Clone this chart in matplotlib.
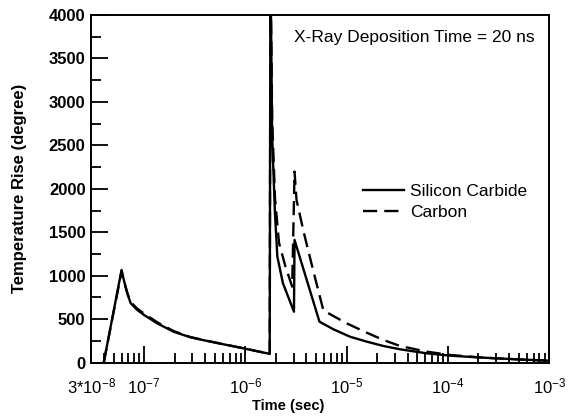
import numpy as np
import matplotlib
matplotlib.use("Agg")
import matplotlib.pyplot as plt
from matplotlib.ticker import FixedLocator, LogLocator, NullFormatter, MultipleLocator

plt.rcParams['font.family'] = ['Liberation Sans', 'DejaVu Sans']
plt.rcParams['mathtext.fontset'] = 'custom'
plt.rcParams['mathtext.rm'] = 'Liberation Sans'
plt.rcParams['mathtext.it'] = 'Liberation Sans'

# Silicon Carbide (solid)
sic_t = [4.0e-8, 6.0e-8, 6.32e-8, 6.84e-8, 7.36e-8, 8.5e-8, 1.0e-7, 1.35e-7,
         1.95e-7, 2.87e-7, 4.2e-7, 6.07e-7, 8.9e-7, 1.64e-6, 1.74e-6, 1.77e-6,
         1.84e-6, 1.96e-6, 2.07e-6, 2.35e-6, 3.02e-6, 3.06e-6, 5.39e-6, 7.41e-6,
         1.08e-5, 1.58e-5, 2.31e-5, 3.37e-5, 6.17e-5, 1.05e-4, 2.21e-4, 4.75e-4,
         9.9e-4]
sic_T = [0, 1067, 951, 798, 687, 610, 549, 453,
         357, 292, 250, 212, 173, 108, 100, 4600,
         2600, 1719, 1220, 914, 587, 1412, 472, 384,
         299, 242, 192, 154, 108, 81, 58, 39,
         23]

# Carbon (dashed)
c_t = [4.0e-8, 6.0e-8, 6.32e-8, 6.84e-8, 7.36e-8, 8.5e-8, 1.0e-7, 1.35e-7,
       1.95e-7, 2.87e-7, 4.2e-7, 6.07e-7, 8.9e-7, 1.64e-6, 1.74e-6, 1.77e-6,
       1.84e-6, 1.96e-6, 2.15e-6, 2.49e-6, 2.90e-6, 3.06e-6, 3.2e-6, 3.79e-6,
       4.75e-6, 5.9e-6, 1.0e-5, 1.58e-5, 2.31e-5, 3.37e-5, 6.17e-5, 1.05e-4,
       2.21e-4, 4.75e-4, 9.9e-4]
c_T = [0, 1050, 940, 800, 700, 625, 565, 465,
       365, 295, 252, 213, 174, 108, 100, 4600,
       2800, 1900, 1377, 1105, 875, 2198, 1872, 1489,
       1029, 600, 453, 345, 261, 192, 127, 89,
       58, 39, 23]

xtick_vals = [3e-8, 1e-7, 1e-6, 1e-5, 1e-4, 1e-3]
xtick_labels = [r'$3{*}10^{-8}$', r'$10^{-7}$', r'$10^{-6}$', r'$10^{-5}$',
                r'$10^{-4}$', r'$10^{-3}$']

fig = plt.figure(figsize=(5.8, 4.18), dpi=100)
ax = fig.add_axes([0.157, 0.1323, 0.790, 0.832])

ax.plot(sic_t, sic_T, color='black', lw=1.7, label='Silicon Carbide')
ax.plot(c_t, c_T, color='black', lw=1.7, ls=(0, (6, 3)), label='Carbon')

ax.set_xscale('log')
ax.set_xlim(3e-8, 1e-3)
ax.set_ylim(0, 4000)

ax.xaxis.set_major_locator(FixedLocator(xtick_vals))
ax.set_xticklabels(xtick_labels)
ax.xaxis.set_minor_locator(LogLocator(base=10, subs=np.arange(2, 10)))
ax.xaxis.set_minor_formatter(NullFormatter())
ax.yaxis.set_major_locator(MultipleLocator(500))
ax.yaxis.set_minor_locator(MultipleLocator(250))

ax.tick_params(which='both', direction='in', top=False, right=False,
               labelsize=12, width=1.3)
ax.tick_params(axis='x', which='major', length=12, pad=10)
ax.tick_params(axis='x', which='minor', length=7)
ax.tick_params(axis='y', which='major', length=12, pad=4)
ax.tick_params(axis='y', which='minor', length=7)
for lab in ax.get_yticklabels():
    lab.set_fontweight('bold')
for s in ax.spines.values():
    s.set_linewidth(1.4)

ax.set_xlabel('Time (sec)', fontsize=10.5, fontweight='bold')
ax.xaxis.set_label_coords(0.43, -0.105)
ax.set_ylabel('Temperature Rise (degree)', fontsize=12, fontweight='bold')
ax.yaxis.set_label_coords(-0.14, 0.5)

ax.text(0.969, 0.934, 'X-Ray Deposition Time = 20 ns', transform=ax.transAxes,
        ha='right', va='center', fontsize=12.5)

ax.legend(loc='upper left', bbox_to_anchor=(0.593, 0.513), frameon=False,
          fontsize=12.5, handlelength=2.4, handletextpad=0.3, labelspacing=0.3,
          borderaxespad=0, borderpad=0)

fig.savefig('out.png', dpi=100)
